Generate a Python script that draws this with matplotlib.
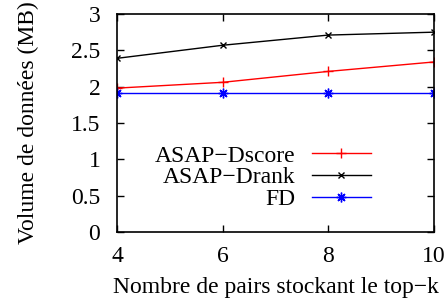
import matplotlib.pyplot as plt

plt.rcParams['font.family'] = ['Liberation Serif', 'DejaVu Serif']
plt.rcParams['font.size'] = 17

pairs = [4, 6, 8, 10]
dscore = [1.98, 2.06, 2.21, 2.34]
drank = [2.39, 2.57, 2.71, 2.75]
fd = [1.91, 1.91, 1.91, 1.91]

fig = plt.figure(figsize=(4.48, 3.0), dpi=100)
ax = fig.add_axes([117/448, 1 - 232/300, (434-117)/448, (232-14)/300])

ax.plot(pairs, dscore, color='red', marker='+', markersize=7, lw=1, label='ASAP\u2212Dscore')
ax.plot(pairs, drank, color='black', marker='x', markersize=5, lw=1, label='ASAP\u2212Drank')
ax.plot(pairs, fd, color='blue', marker=(8, 2, 0), markersize=7, lw=1, label='FD')

ax.set_xlim(4, 10)
ax.set_ylim(0, 3)
ax.set_xticks(pairs)
ax.set_yticks([0, 0.5, 1, 1.5, 2, 2.5, 3])
ax.set_yticklabels(['0', '0.5', '1', '1.5', '2', '2.5', '3'])
ax.tick_params(direction='in', top=True, right=True, length=5, width=1)
ax.tick_params(axis='x', pad=10)
ax.tick_params(axis='y', pad=12)
for s in ax.spines.values():
    s.set_linewidth(1.2)

ax.set_xlabel('Nombre de pairs stockant le top\u2212k', labelpad=7)
ax.set_ylabel('Volume de donn\u00e9es (MB)', labelpad=23)

ax.legend(loc='center right', bbox_to_anchor=(0.80, 0.25), frameon=False,
          markerfirst=False, handlelength=2.5, labelspacing=0.0,
          handletextpad=0.7, borderpad=0.0, borderaxespad=0.0)

fig.savefig('out.png', dpi=100)
